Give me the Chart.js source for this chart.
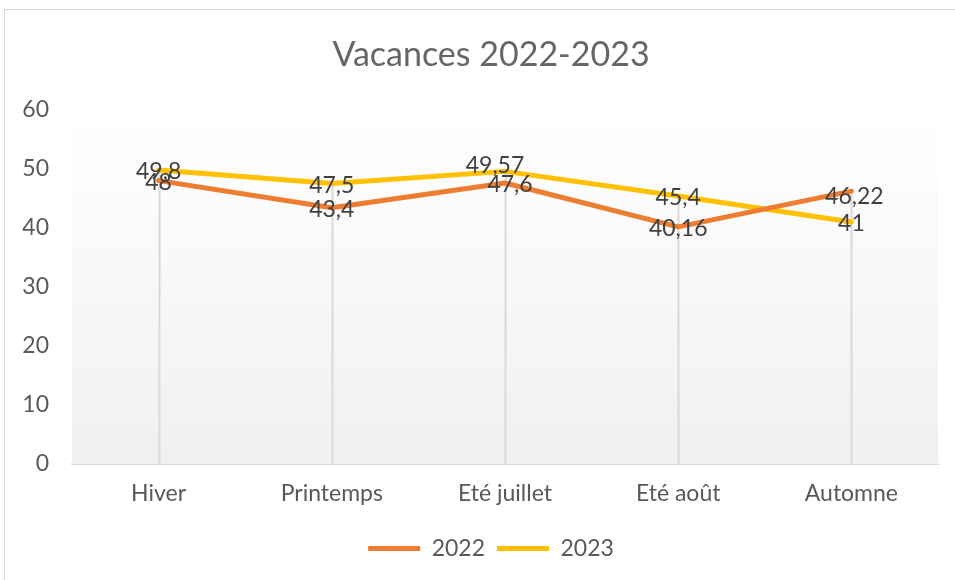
<!DOCTYPE html>
<html>
<head>
<meta charset="utf-8">
<script src="https://cdn.jsdelivr.net/npm/chart.js@4.4.1/dist/chart.umd.min.js"></script>
<style>
    html, body { margin: 0; padding: 0; background: #fff; }
    #wrap { position: relative; width: 955px; height: 580px; overflow: hidden; }
    #frame { position: absolute; left: 4px; top: 9px; width: 1000px; height: 1000px; border: 1px solid #d9d9d9; }
    #c { position: absolute; left: 0; top: 0; }
</style>
</head>
<body>
<div id="wrap">
    <div id="frame"></div>
    <canvas id="c" width="955" height="580"></canvas>
</div>
<script>
// Données
const saisons = ['Hiver', 'Printemps', 'Eté juillet', 'Eté août', 'Automne'];
const valeurs2022 = [48, 43.4, 47.6, 40.16, 46.22];
const valeurs2023 = [49.8, 47.5, 49.57, 45.4, 41];
const ticksY = [0, 10, 20, 30, 40, 50, 60];

const police = 'Lato, "Open Sans", sans-serif';

// fond dégradé de la zone de tracé + lignes de projection
const fondPlugin = {
    id: 'fond',
    afterLayout(chart) {
        // titre et légende centrés sur la zone de tracé comme dans Excel
        [chart.titleBlock, chart.legend].forEach(b => {
            if (b) { b.left += 22; b.right += 22; }
        });
    },
    beforeDatasetsDraw(chart) {
        const ctx = chart.ctx;
        const a = chart.chartArea;
        const g = ctx.createLinearGradient(0, a.top, 0, a.bottom);
        g.addColorStop(0, '#ffffff');
        g.addColorStop(1, '#f0f0f0');
        ctx.save();
        ctx.fillStyle = g;
        ctx.fillRect(a.left, a.top, a.right - a.left, a.bottom - a.top);

        // lignes verticales depuis le point le plus haut
        const xs = chart.scales.x, ys = chart.scales.y;
        ctx.strokeStyle = '#d9d9d9';
        ctx.lineWidth = 2;
        saisons.forEach((s, i) => {
            const haut = Math.max(valeurs2022[i], valeurs2023[i]);
            const x = Math.round(xs.getPixelForValue(i)) + 0.5;
            ctx.beginPath();
            ctx.moveTo(x, ys.getPixelForValue(haut));
            ctx.lineTo(x, a.bottom);
            ctx.stroke();
        });
        ctx.restore();
    }
};

// étiquettes de données, centrées sur les points
const etiquettesPlugin = {
    id: 'etiquettes',
    afterDatasetsDraw(chart, args, opts) {
        const ctx = chart.ctx;
        ctx.save();
        ctx.font = '23px ' + police;
        ctx.fillStyle = '#404040';
        ctx.textAlign = 'center';
        ctx.textBaseline = 'middle';
        chart.data.datasets.forEach((ds, d) => {
            chart.getDatasetMeta(d).data.forEach((pt, i) => {
                const n = (opts.decalage[d + '-' + i]) || [0, 0];
                const txt = String(ds.data[i]).replace('.', ',');
                ctx.fillText(txt, pt.x + n[0], pt.y + 2 + n[1]);
            });
        });
        ctx.restore();
    }
};

new Chart(document.getElementById('c'), {
    type: 'line',
    data: {
        labels: saisons,
        datasets: [{
            label: '2022',
            data: valeurs2022,
            borderColor: '#ED7D31',
            backgroundColor: '#ED7D31',
            borderWidth: 5,
            pointRadius: 0,
            tension: 0,
            borderJoinStyle: 'round',
            borderCapStyle: 'round'
        }, {
            label: '2023',
            data: valeurs2023,
            borderColor: '#FFC000',
            backgroundColor: '#FFC000',
            borderWidth: 5,
            pointRadius: 0,
            tension: 0,
            borderJoinStyle: 'round',
            borderCapStyle: 'round'
        }]
    },
    options: {
        responsive: false,
        animation: false,
        events: [],
        layout: { padding: { left: 0, right: 17, top: 0, bottom: 10 } },
        plugins: {
            title: {
                display: true,
                text: 'Vacances 2022-2023',
                color: '#666666',
                font: { family: police, size: 34, weight: 'normal' },
                padding: { top: 35, bottom: 34 }
            },
            legend: {
                position: 'bottom',
                labels: {
                    color: '#595959',
                    font: { family: police, size: 23 },
                    boxWidth: 52,
                    boxHeight: 5,
                    padding: 12,
                    generateLabels(chart) {
                        return chart.data.datasets.map((ds, i) => ({
                            text: ds.label,
                            fillStyle: ds.borderColor,
                            strokeStyle: ds.borderColor,
                            lineWidth: 0,
                            fontColor: '#595959',
                            datasetIndex: i
                        }));
                    }
                }
            },
            tooltip: { enabled: false },
            etiquettes: {
                decalage: { '1-2': [-10, -8], '0-2': [5, 0], '0-4': [3, 3] }
            }
        },
        scales: {
            x: {
                offset: true,
                grid: { display: false, drawTicks: false },
                border: { display: true, color: '#d9d9d9', width: 2 },
                ticks: {
                    color: '#595959',
                    font: { family: police, size: 23 },
                    padding: 16,
                    maxRotation: 0
                },
                afterFit(scale) { scale.height = 61; }
            },
            y: {
                min: 0,
                max: 60,
                grid: { display: false, drawTicks: false },
                border: { display: false },
                afterBuildTicks(scale) { scale.ticks = ticksY.map(v => ({ value: v })); },
                ticks: {
                    color: '#595959',
                    font: { family: police, size: 23 },
                    padding: 23
                },
                afterFit(scale) { scale.width = 72; }
            }
        }
    },
    plugins: [fondPlugin, etiquettesPlugin]
});
</script>
</body>
</html>
